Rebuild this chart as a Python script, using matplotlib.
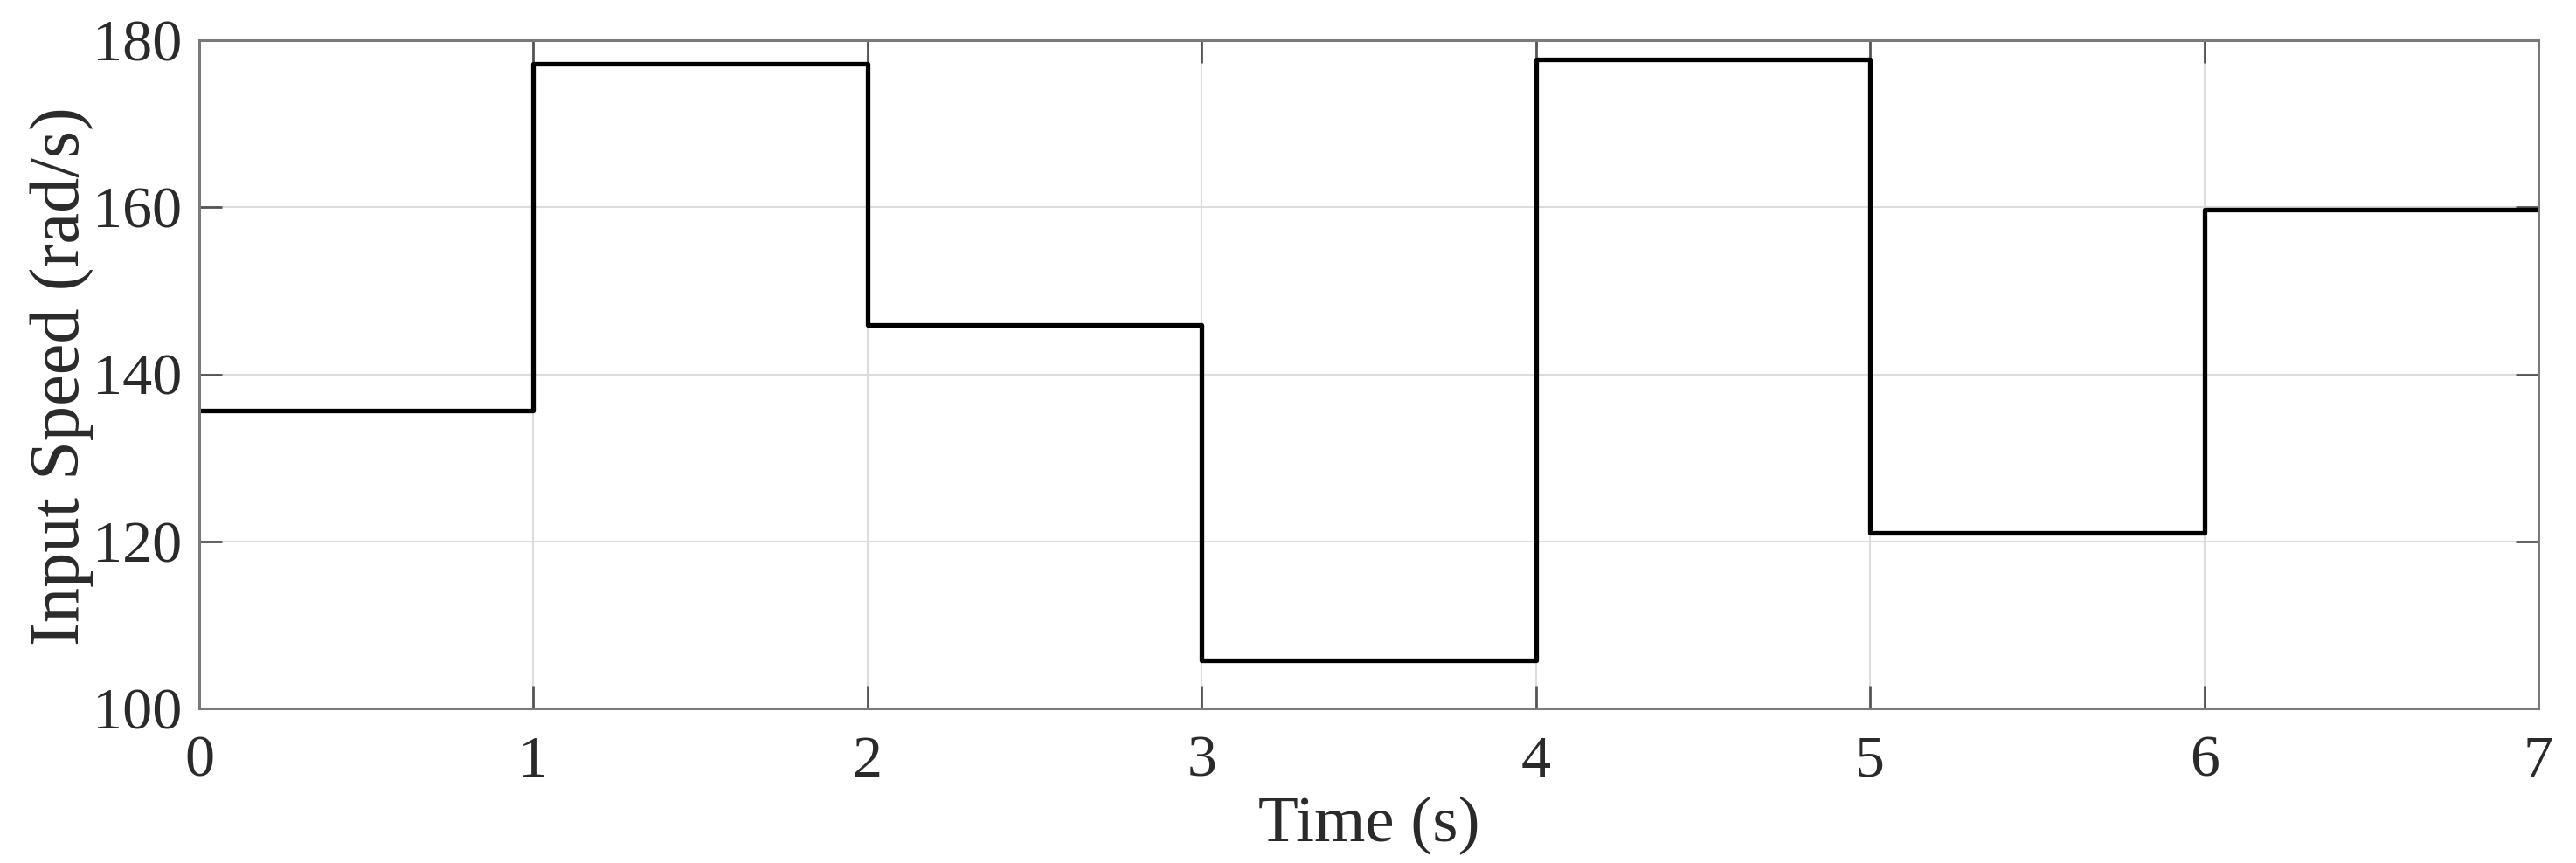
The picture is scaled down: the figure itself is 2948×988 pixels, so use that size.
import matplotlib
matplotlib.use("Agg")
import matplotlib.pyplot as plt
import numpy as np

# Data
time_edges = [0, 1, 2, 3, 4, 5, 6, 7]
speed_levels = [135.7, 177.2, 145.9, 105.7, 177.7, 121.0, 159.7]
x_ticks = [0, 1, 2, 3, 4, 5, 6, 7]
y_ticks = [100, 120, 140, 160, 180]

plt.rcParams['font.family'] = ['Liberation Serif', 'DejaVu Serif']

fig = plt.figure(figsize=(29.48, 9.88), dpi=100)
left, right, top, bottom = 228 / 2948, 2905 / 2948, 1 - 46 / 988, 1 - 811 / 988
ax = fig.add_axes([left, bottom, right - left, top - bottom])

ax.step(time_edges, speed_levels + [speed_levels[-1]], where='post',
        color='black', linewidth=3.8)

ax.set_xlim(0, 7)
ax.set_ylim(100, 180)
ax.set_xticks(x_ticks)
ax.set_yticks(y_ticks)
ax.grid(True, color='#dcdcdc', linewidth=1.5)
ax.set_axisbelow(True)

for s in ax.spines.values():
    s.set_color('#7a7a7a')
    s.set_linewidth(2.2)

ax.tick_params(axis='both', which='major', direction='in', length=19,
               width=2.0, color='#555555', labelsize=49, labelcolor='#2a2a2a',
               top=True, right=True)
ax.tick_params(axis='x', pad=22)
ax.tick_params(axis='y', pad=14)

ax.set_xlabel('Time (s)', fontsize=54, color='#2a2a2a')
ax.set_ylabel('Input Speed (rad/s)', fontsize=58, color='#2a2a2a')
ax.xaxis.set_label_coords(0.5, -0.132)
ax.yaxis.set_label_coords(-0.045, 0.497)

fig.savefig('out.png', dpi=100, facecolor='white')
